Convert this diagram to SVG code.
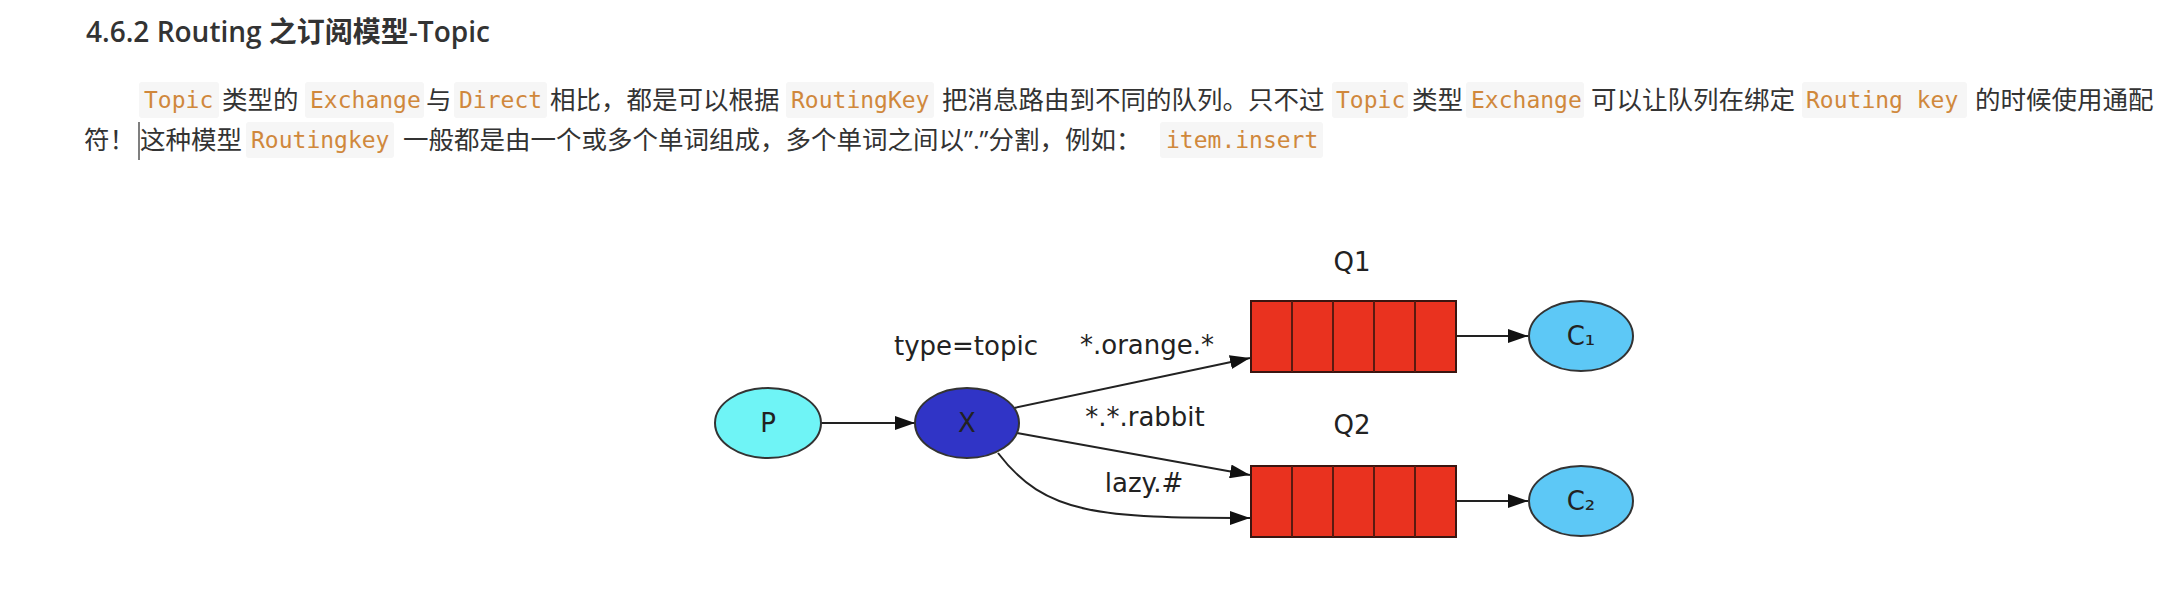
<svg xmlns="http://www.w3.org/2000/svg" width="2182" height="594" viewBox="0 0 2182 594">
<style>
.title{font-family:'Open Sans','Noto Sans CJK SC',sans-serif;font-size:28px;font-weight:600;fill:#333}
.cjk{font-family:'Open Sans','Noto Sans CJK SC',sans-serif;font-size:25.5px;fill:#333}
.code{font-family:'DejaVu Sans Mono','Liberation Mono',monospace;font-size:23px;fill:#d0883c}
.cbg{fill:#f6f6f6}
.lbl{font-family:'DejaVu Sans',sans-serif;font-size:26px;fill:#222}
.edge{fill:none;stroke:#222;stroke-width:2}
.nd{stroke:#333;stroke-width:2}
.q{fill:#e9321f;stroke:#3a1510;stroke-width:2}
.qd{stroke:#5a1a10;stroke-width:2}
</style>
<defs>
<marker id="a" viewBox="0 0 20 14" refX="20" refY="7" markerWidth="20" markerHeight="14" markerUnits="userSpaceOnUse" orient="auto">
<path d="M0,0 L20,7 L0,14 z" fill="#111"/>
</marker>
</defs>
<rect width="2182" height="594" fill="#fff"/>

<g id="text">
<text class="title" x="86" y="42">4.6.2 Routing 之订阅模型-Topic</text>

<rect class="cbg" x="139" y="82" width="80" height="36" rx="3"/>
<text class="code" x="144" y="108">Topic</text>
<text class="cjk" x="222" y="109">类型的</text>
<rect class="cbg" x="305" y="82" width="119" height="36" rx="3"/>
<text class="code" x="310" y="108">Exchange</text>
<text class="cjk" x="426" y="109">与</text>
<rect class="cbg" x="454" y="82" width="93" height="36" rx="3"/>
<text class="code" x="459" y="108">Direct</text>
<text class="cjk" x="550" y="109">相比，都是可以根据</text>
<rect class="cbg" x="786" y="82" width="148" height="36" rx="3"/>
<text class="code" x="791" y="108">RoutingKey</text>
<text class="cjk" x="942" y="109">把消息路由到不同的队列。只不过</text>
<rect class="cbg" x="1332" y="82" width="76" height="36" rx="3"/>
<text class="code" x="1336" y="108">Topic</text>
<text class="cjk" x="1412" y="109">类型</text>
<rect class="cbg" x="1466" y="82" width="118" height="36" rx="3"/>
<text class="code" x="1471" y="108">Exchange</text>
<text class="cjk" x="1591" y="109">可以让队列在绑定</text>
<rect class="cbg" x="1802" y="82" width="165" height="36" rx="3"/>
<text class="code" x="1806" y="108">Routing key</text>
<text class="cjk" x="1975" y="109">的时候使用通配</text>

<text class="cjk" x="84" y="149">符！</text>
<line x1="139" y1="122" x2="139" y2="160" stroke="#555" stroke-width="1.5"/>
<text class="cjk" x="140" y="149">这种模型</text>
<rect class="cbg" x="246" y="122" width="148" height="36" rx="3"/>
<text class="code" x="251" y="148">Routingkey</text>
<text class="cjk" x="403" y="149">一般都是由一个或多个单词组成，多个单词之间以”.”分割，例如：</text>
<rect class="cbg" x="1160" y="122" width="163" height="36" rx="3"/>
<text class="code" x="1166" y="148">item.insert</text>
</g>

<g id="connectors">
<line class="edge" x1="821" y1="423" x2="915" y2="423" marker-end="url(#a)"/>
<line class="edge" x1="1014" y1="408" x2="1250" y2="358" marker-end="url(#a)"/>
<line class="edge" x1="1017" y1="433" x2="1250" y2="475" marker-end="url(#a)"/>
<path class="edge" d="M998,453 C1045,515 1100,518 1250,518" marker-end="url(#a)"/>
<line class="edge" x1="1456" y1="336" x2="1528" y2="336" marker-end="url(#a)"/>
<line class="edge" x1="1456" y1="501" x2="1528" y2="501" marker-end="url(#a)"/>
<text class="lbl" x="966" y="355" text-anchor="middle">type=topic</text>
<text class="lbl" x="1147" y="354" text-anchor="middle">*.orange.*</text>
<text class="lbl" x="1145" y="426" text-anchor="middle">*.*.rabbit</text>
<text class="lbl" x="1144" y="492" text-anchor="middle">lazy.#</text>
</g>

<g id="P">
<ellipse class="nd" cx="768" cy="423" rx="53" ry="35" fill="#6ff4f6"/>
<text class="lbl" x="768" y="432" text-anchor="middle" fill="#1a3a40">P</text>
</g>
<g id="X">
<ellipse class="nd" cx="967" cy="423" rx="52" ry="35" fill="#3034c6"/>
<text class="lbl" x="967" y="432" text-anchor="middle" fill="#101850">X</text>
</g>
<g id="Q1">
<text class="lbl" x="1352" y="271" text-anchor="middle">Q1</text>
<rect class="q" x="1251" y="301" width="205" height="71"/>
<line class="qd" x1="1292" y1="301" x2="1292" y2="372"/>
<line class="qd" x1="1333" y1="301" x2="1333" y2="372"/>
<line class="qd" x1="1374" y1="301" x2="1374" y2="372"/>
<line class="qd" x1="1415" y1="301" x2="1415" y2="372"/>
</g>
<g id="Q2">
<text class="lbl" x="1352" y="434" text-anchor="middle">Q2</text>
<rect class="q" x="1251" y="466" width="205" height="71"/>
<line class="qd" x1="1292" y1="466" x2="1292" y2="537"/>
<line class="qd" x1="1333" y1="466" x2="1333" y2="537"/>
<line class="qd" x1="1374" y1="466" x2="1374" y2="537"/>
<line class="qd" x1="1415" y1="466" x2="1415" y2="537"/>
</g>
<g id="C1">
<ellipse class="nd" cx="1581" cy="336" rx="52" ry="35" fill="#5dc8f6"/>
<text class="lbl" x="1581" y="345" text-anchor="middle" fill="#1a3a50">C₁</text>
</g>
<g id="C2">
<ellipse class="nd" cx="1581" cy="501" rx="52" ry="35" fill="#5dc8f6"/>
<text class="lbl" x="1581" y="510" text-anchor="middle" fill="#1a3a50">C₂</text>
</g>
</svg>
